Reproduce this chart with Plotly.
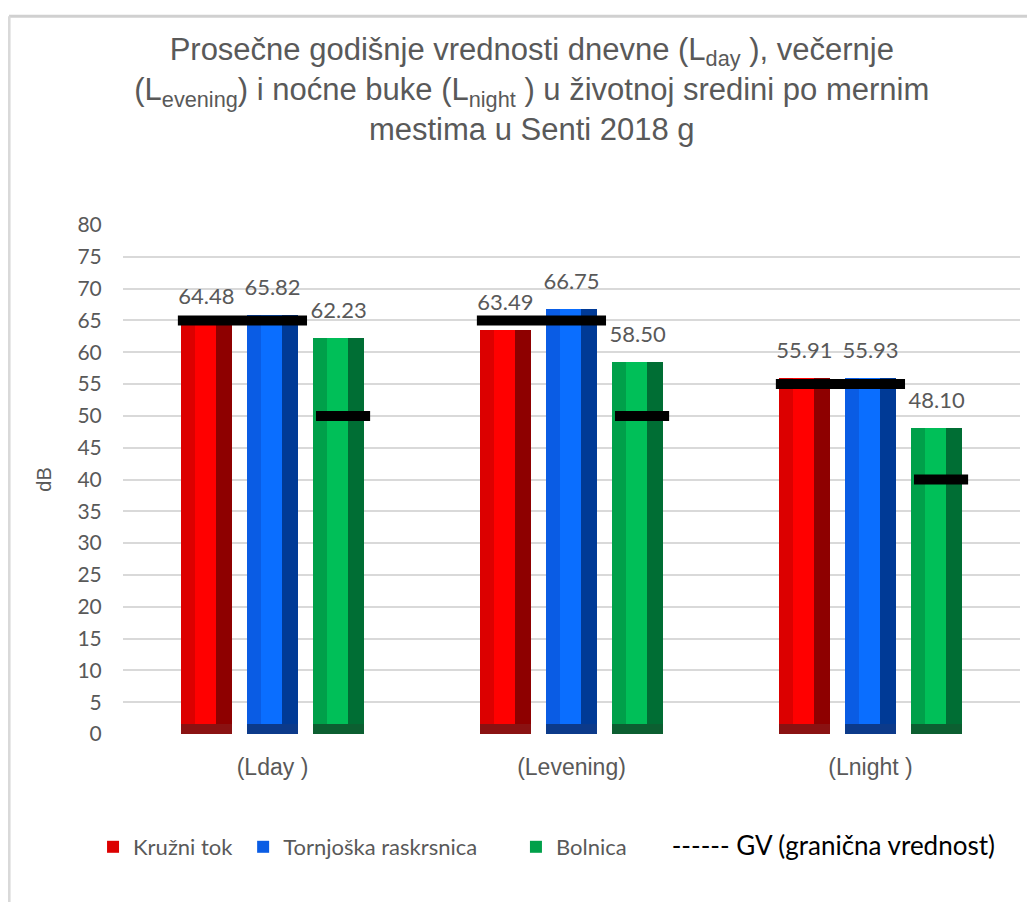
import plotly.graph_objects as go

# ---- data ----
categories = ["(Lday )", "(Levening)", "(Lnight )"]
series_names = ["Kružni tok", "Tornjoška raskrsnica", "Bolnica"]
kruzni_tok = [64.48, 63.49, 55.91]
tornjoska = [65.82, 66.75, 55.93]
bolnica = [62.23, 58.50, 48.10]
gv_kruzni_tornjoska = [65, 65, 55]
gv_bolnica = [50, 50, 40]
y_ticks = list(range(0, 81, 5))

# ---- style ----
pitch = 0.221
w = 0.171
offsets = [-pitch, 0.0, pitch]
# (left bevel / base, bright face, right bevel, bottom bevel)
palettes = [
    ("#DC0000", "#FF0000", "#8E0000", "#8A1212"),
    ("#0A5CE4", "#0A6EFF", "#003A96", "#0C3A8A"),
    ("#00A04A", "#00BF58", "#006E34", "#0C5F31"),
]
grey = "#595959"
series_values = [kruzni_tok, tornjoska, bolnica]
legend_pad = ["&nbsp;", "&nbsp;&nbsp;&nbsp;&nbsp;&nbsp;&nbsp;", ""]

fig = go.Figure()
xs_all = []
for s, (name, vals, off, pal) in enumerate(zip(series_names, series_values, offsets, palettes)):
    xc = [i + off for i in range(len(categories))]
    xs_all.append(xc)
    # base bar (legend)
    fig.add_trace(go.Bar(x=xc, y=vals, width=w, name=name + legend_pad[s],
                         marker=dict(color=pal[0], line=dict(width=0)),
                         showlegend=True, legendgroup=name))
    # bright face strip
    fc = [x - w / 2 + w * 0.485 for x in xc]
    fig.add_trace(go.Bar(x=fc, y=vals, width=w * 0.41, marker=dict(color=pal[1], line=dict(width=0)),
                         showlegend=False, legendgroup=name))
    # right dark bevel
    rc = [x + w / 2 - w * 0.155 for x in xc]
    fig.add_trace(go.Bar(x=rc, y=vals, width=w * 0.31, marker=dict(color=pal[2], line=dict(width=0)),
                         showlegend=False, legendgroup=name))
    # bottom bevel
    fig.add_trace(go.Bar(x=xc, y=[1.6] * len(vals), width=w, marker=dict(color=pal[3], line=dict(width=0)),
                         showlegend=False, legendgroup=name))

# data labels
for s, vals in enumerate(series_values):
    fig.add_trace(go.Scatter(x=xs_all[s], y=vals, mode="markers+text", text=[f"{v:.2f}" for v in vals],
                             textposition="top center", marker=dict(size=22, opacity=0),
                             textfont=dict(family="Lato", size=22, color=grey),
                             showlegend=False, cliponaxis=False, hoverinfo="skip"))

# GV limit lines
gx, gy = [], []
for i in range(len(categories)):
    gx += [xs_all[0][i] - w / 2 - 0.01, xs_all[1][i] + w / 2 + 0.03, None]
    gy += [gv_kruzni_tornjoska[i], gv_kruzni_tornjoska[i], None]
    gx += [xs_all[2][i] - w / 2 + 0.01, xs_all[2][i] + w / 2 + 0.02, None]
    gy += [gv_bolnica[i], gv_bolnica[i], None]
fig.add_trace(go.Scatter(x=gx, y=gy, mode="lines", line=dict(color="black", width=10),
                         showlegend=False, hoverinfo="skip"))
# legend entry for GV (text only)
fig.add_trace(go.Scatter(x=[None], y=[None], mode="lines", line=dict(color="rgba(0,0,0,0)", width=0),
                         name="<span style='color:black;font-size:26px'>------ GV (granična vrednost)</span>"))

title_text = ("Prosečne godišnje vrednosti dnevne (L<sub>day</sub> ), večernje<br>"
              "(L<sub>evening</sub>) i noćne buke (L<sub>night</sub> ) u životnoj sredini po mernim<br>"
              "mestima u Senti 2018 g")

fig.update_layout(
    width=1027, height=894,
    margin=dict(l=115, r=15, t=217, b=168),
    paper_bgcolor="white", plot_bgcolor="white",
    barmode="overlay", bargap=0,
    title=dict(text=title_text, x=0.51, xanchor="center", y=0.942, yanchor="top",
               font=dict(family="Liberation Sans", size=31, color=grey)),
    xaxis=dict(range=[-0.5, 2.5], tickmode="array", tickvals=[0, 1, 2], ticktext=categories,
               showgrid=False, zeroline=False, showline=False, ticks="outside", ticklen=12,
               tickcolor="rgba(0,0,0,0)", tickfont=dict(family="Liberation Sans", size=23, color=grey)),
    yaxis=dict(range=[0, 80], tickmode="array", tickvals=y_ticks, showgrid=True, gridcolor="#D9D9D9",
               gridwidth=1.5, zeroline=False, showline=False, ticks="outside", ticklen=16,
               tickcolor="rgba(0,0,0,0)", tickfont=dict(family="Lato", size=21, color=grey),
               title=dict(text="dB", standoff=20, font=dict(family="Liberation Sans", size=20, color=grey))),
    legend=dict(orientation="h", x=-0.0334, xanchor="left", y=-0.222, yanchor="middle",
                font=dict(family="Lato", size=22, color=grey), traceorder="normal",
                itemsizing="constant", bgcolor="rgba(0,0,0,0)"),
    hovermode=False,
    shapes=[
        dict(type="line", xref="paper", yref="paper", x0=-0.127, x1=1.016, y0=1.41, y1=1.41,
             line=dict(color="#D0D0D0", width=3), layer="above"),
        dict(type="line", xref="paper", yref="paper", x0=-0.127, x1=-0.127, y0=1.41, y1=-0.35,
             line=dict(color="#D9D9D9", width=3), layer="above"),
    ],
)

fig.write_html("out.html")
